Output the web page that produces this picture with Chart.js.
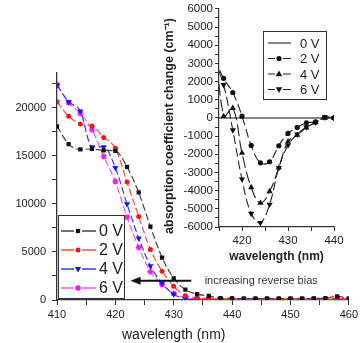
<!DOCTYPE html>
<html>
<head>
<meta charset="utf-8">
<script src="https://cdn.jsdelivr.net/npm/chart.js@4/dist/chart.umd.min.js"></script>
<style>
  html, body { margin: 0; padding: 0; background: #fff; }
  #wrap { position: relative; width: 361px; height: 343px; overflow: hidden; }
  #mainBox { position: absolute; left: 0; top: 0; width: 361px; height: 343px; }
  #insetBox { position: absolute; left: 160px; top: 0; width: 201px; height: 270px; }
</style>
</head>
<body>
<div id="wrap">
  <div id="mainBox"><canvas id="main"></canvas></div>
  <div id="insetBox"><canvas id="inset"></canvas></div>
</div>
<script>
// main plot: absorption vs wavelength for 4 bias voltages
const wl = [410, 412, 414, 416, 418, 420, 422, 424, 426, 428, 430, 432, 434, 436, 438, 440, 442, 444, 446, 448, 450, 452, 454, 456, 458, 460];
const abs0 = [18060, 16200, 15650, 15700, 15560, 15500, 13830, 11180, 7640, 4410, 2260, 1080, 620, 420, 200, 160, 150, 150, 150, 150, 150, 150, 160, 200, 380, 150];
const abs2 = [20600, 19100, 18300, 18100, 16900, 15770, 12260, 8680, 5250, 3000, 1420, 450, 250, 150, 120, 120, 120, 120, 120, 120, 120, 120, 120, 120, 150, 120];
const abs4 = [22330, 20600, 19620, 15910, 15910, 13750, 9970, 6430, 3540, 1740, 590, 150, 60, 40, 40, 40, 40, 40, 40, 40, 40, 40, 40, 40, 60, 40];
const abs6 = [22400, 20500, 19380, 17710, 14930, 12330, 8610, 5450, 2950, 1630, 660, 250, 120, 100, 100, 100, 100, 100, 100, 100, 100, 100, 100, 100, 150, 100];
const mainLabels = ["0 V", "2 V", "4 V", "6 V"];
const mainXTicks = [410, 420, 430, 440, 450, 460];
const mainYTicks = [0, 5000, 10000, 15000, 20000];

// inset: change relative to 0 V
const iwl = [414, 416, 418, 420, 422, 424, 426, 428, 430, 432, 434, 436, 438, 440];
const dA0 = [0, 0, 0, 0, 0, 0, 0, 0, 0, 0, 0, 0, 0, 0];
const dA2 = [3300, 2180, 1400, 100, -1510, -2470, -2410, -1530, -850, -520, -270, -220, 20, 0];
const dA4 = [5400, 90, 540, -1930, -3820, -4680, -4040, -2740, -1300, -940, -540, -250, 0, 0];
const dA6 = [3200, 1820, -670, -3370, -5260, -5770, -4760, -2740, -1500, -900, -500, -250, 50, 0];
const insetXTicks = [420, 430, 440];
const insetYTicks = [-6000, -5000, -4000, -3000, -2000, -1000, 0, 1000, 2000, 3000, 4000, 5000, 6000];

Chart.defaults.font.family = 'Arial, "Liberation Sans", sans-serif';
Chart.defaults.color = "#222";
Chart.defaults.animation = false;
Chart.defaults.plugins.legend.display = false;
Chart.defaults.plugins.tooltip.enabled = false;

const pts = (xs, ys) => xs.map((x, i) => ({ x, y: ys[i] }));
// major ticks plus one minor tick halfway to the next, clipped to the axis range
const withMinor = (major, half, lo, hi) => major.flatMap((v) => [v - half, v, v + half])
  .filter((v, i, a) => v >= lo && v <= hi && a.indexOf(v) === i)
  .sort((a, b) => a - b)
  .map((value) => ({ value }));

function marker(ctx, style, x, y, r, rot, color) {
  ctx.save();
  ctx.fillStyle = color;
  ctx.strokeStyle = color;
  ctx.setLineDash([]);
  ctx.beginPath();
  if (style === "circle") {
    ctx.arc(x, y, r, 0, Math.PI * 2);
    ctx.fill();
  } else if (style === "rect") {
    const s = r * Math.SQRT1_2;
    ctx.fillRect(x - s, y - s, 2 * s, 2 * s);
  } else if (style === "triangle") {
    const d = rot ? -1 : 1;
    ctx.moveTo(x, y - d * r);
    ctx.lineTo(x - r * 0.9, y + d * r * 0.6);
    ctx.lineTo(x + r * 0.9, y + d * r * 0.6);
    ctx.closePath();
    ctx.fill();
  } else if (style === "star") {
    ctx.lineWidth = 1.5;
    for (let a = 0; a < 4; a++) {
      const t = (a * Math.PI) / 4;
      ctx.moveTo(x - Math.cos(t) * r, y - Math.sin(t) * r);
      ctx.lineTo(x + Math.cos(t) * r, y + Math.sin(t) * r);
    }
    ctx.stroke();
  }
  ctx.restore();
}

function legendBox(ctx, box, rows) {
  ctx.save();
  ctx.fillStyle = "#fff";
  ctx.fillRect(box.x, box.y, box.w, box.h);
  ctx.strokeStyle = "#333";
  ctx.lineWidth = 1;
  ctx.strokeRect(box.x + 0.5, box.y + 0.5, box.w, box.h);
  rows.forEach((r, i) => {
    const yy = box.y + box.first + i * box.step;
    ctx.strokeStyle = r.line;
    ctx.lineWidth = r.width || 1.2;
    if (r.style) {
      ctx.beginPath();
      ctx.moveTo(box.x + box.l0, yy); ctx.lineTo(box.x + box.mk - box.gap, yy);
      ctx.moveTo(box.x + box.mk + box.gap, yy); ctx.lineTo(box.x + box.l1, yy);
      ctx.stroke();
      marker(ctx, r.style, box.x + box.mk, yy, r.r, r.rot, r.color);
    } else {
      ctx.beginPath();
      ctx.moveTo(box.x + box.l0, yy); ctx.lineTo(box.x + box.l1, yy);
      ctx.stroke();
    }
    ctx.fillStyle = "#222";
    ctx.font = box.font;
    ctx.textAlign = "left";
    ctx.textBaseline = "middle";
    ctx.fillText(r.label, box.x + box.tx, yy + 1);
  });
  ctx.restore();
}

const mainStyle = [
  { color: "#111", line: "#444", style: "rect", r: 3, rot: 0 },
  { color: "#f01818", line: "#f05050", style: "circle", r: 2.5, rot: 0 },
  { color: "#1414f0", line: "#3a3af0", style: "triangle", r: 3.5, rot: 180 },
  { color: "#ee22ee", line: "#ee55ee", style: "star", r: 3, rot: 0 },
];
const mainSeries = [abs0, abs2, abs4, abs6];

const mainDeco = {
  id: "mainDeco",
  afterDatasetsDraw(chart) {
    const { ctx, scales: { x, y }, chartArea } = chart;
    ctx.save();
    // arrow "increasing reverse bias"
    const ay = y.getPixelForValue(2000);
    const tip = x.getPixelForValue(422.6), tail = x.getPixelForValue(433);
    ctx.strokeStyle = "#111";
    ctx.fillStyle = "#111";
    ctx.lineWidth = 2;
    ctx.beginPath(); ctx.moveTo(tail, ay); ctx.lineTo(tip + 6, ay); ctx.stroke();
    ctx.beginPath(); ctx.moveTo(tip, ay); ctx.lineTo(tip + 10, ay - 4); ctx.lineTo(tip + 10, ay + 4); ctx.closePath(); ctx.fill();
    ctx.fillStyle = "#333";
    ctx.font = '11px Arial, "Liberation Sans", sans-serif';
    ctx.textAlign = "left";
    ctx.textBaseline = "middle";
    ctx.fillText("increasing reverse bias", x.getPixelForValue(435.3), ay);
    // axis title, sits left of centre in the original
    ctx.fillStyle = "#222";
    ctx.font = '14px Arial, "Liberation Sans", sans-serif';
    ctx.textAlign = "center";
    ctx.fillText("wavelength (nm)", x.getPixelForValue(430), chartArea.bottom + 35);
    ctx.restore();

    legendBox(ctx, { x: 58, y: 215, w: 66, h: 83, first: 16, step: 19, l0: 3, l1: 38, mk: 20, gap: 4, tx: 41, font: '16px Arial, "Liberation Sans", sans-serif' },
      mainLabels.map((label, i) => ({ label, ...mainStyle[i], width: 1.3 })));
  },
};

new Chart(document.getElementById("main"), {
  type: "line",
  data: {
    datasets: mainSeries.map((s, i) => ({
      label: mainLabels[i],
      data: pts(wl, s),
      borderColor: mainStyle[i].line,
      backgroundColor: mainStyle[i].color,
      pointBackgroundColor: mainStyle[i].color,
      pointBorderColor: mainStyle[i].color,
      pointStyle: mainStyle[i].style,
      pointRadius: mainStyle[i].r,
      pointRotation: mainStyle[i].rot,
      pointBorderWidth: mainStyle[i].style === "star" ? 1.5 : 0,
      borderWidth: 1.2,
      borderDash: [7, 3],
      cubicInterpolationMode: "monotone",
    })),
  },
  options: {
    responsive: true,
    maintainAspectRatio: false,
    devicePixelRatio: 1,
    layout: { autoPadding: false, padding: { left: 0, right: 11, top: 73, bottom: 0 } },
    scales: {
      x: {
        type: "linear", min: 410, max: 460,
        afterFit: (s) => { s.height = 43; },
        afterBuildTicks: (s) => { s.ticks = withMinor(mainXTicks, 5, 410, 460); },
        ticks: { autoSkip: false, padding: 3, font: { size: 11 }, color: "#222", maxRotation: 0,
          callback: (v) => (mainXTicks.includes(v) ? v : "") },
        grid: { drawOnChartArea: false, tickLength: 5, color: "#333" },
        border: { color: "#333", width: 1.3 },
      },
      y: {
        min: 0, max: 23600,
        afterFit: (s) => { s.width = 57; },
        afterBuildTicks: (s) => { s.ticks = withMinor(mainYTicks, 2500, 0, 23600); },
        ticks: { autoSkip: false, padding: 6, font: { size: 11 }, color: "#222",
          callback: (v) => (mainYTicks.includes(v) ? v : "") },
        grid: { drawOnChartArea: false, tickLength: 5, color: "#333" },
        border: { color: "#333", width: 1.3 },
      },
    },
  },
  plugins: [mainDeco],
});

// inset
const insetStyle = [
  { color: "#111", line: "#111", style: null, r: 0, rot: 0, dash: [] },
  { color: "#111", line: "#222", style: "circle", r: 2.6, rot: 0, dash: [9, 4] },
  { color: "#111", line: "#222", style: "triangle", r: 3.6, rot: 0, dash: [12, 4] },
  { color: "#111", line: "#222", style: "triangle", r: 3.6, rot: 180, dash: [9, 4] },
];
const insetSeries = [dA0, dA2, dA4, dA6];

const insetDeco = {
  id: "insetDeco",
  afterDatasetsDraw(chart) {
    const { ctx } = chart;
    ctx.save();
    ctx.translate(10, 126);
    ctx.rotate(-Math.PI / 2);
    ctx.fillStyle = "#222";
    ctx.font = 'bold 12.5px Arial, "Liberation Sans", sans-serif';
    ctx.textAlign = "center";
    ctx.textBaseline = "middle";
    ctx.fillText("absorption coefficient change (cm\u207B\u00B9)", 0, 0);
    ctx.restore();
    legendBox(ctx, { x: 103, y: 31, w: 63, h: 68, first: 12, step: 15.5, l0: 5, l1: 28, mk: 16, gap: 4, tx: 37, font: '13px Arial, "Liberation Sans", sans-serif' },
      mainLabels.map((label, i) => ({ label, ...insetStyle[i], width: 1 })));
  },
};

new Chart(document.getElementById("inset"), {
  type: "line",
  data: {
    datasets: insetSeries.map((s, i) => ({
      label: mainLabels[i],
      data: pts(iwl, s),
      borderColor: insetStyle[i].line,
      pointBackgroundColor: insetStyle[i].color,
      pointBorderWidth: 0,
      pointStyle: insetStyle[i].style || "circle",
      pointRadius: (c) => (!insetStyle[i].style || (c.raw && c.raw.x < 415) ? 0 : insetStyle[i].r),
      pointRotation: insetStyle[i].rot,
      borderWidth: 1.1,
      borderDash: insetStyle[i].dash,
      tension: i === 0 ? 0 : 0.4,
    })),
  },
  options: {
    responsive: true,
    maintainAspectRatio: false,
    devicePixelRatio: 1,
    layout: { autoPadding: false, padding: { left: 0, right: 27, top: 5, bottom: 0 } },
    scales: {
      x: {
        type: "linear", min: 415, max: 440,
        afterFit: (s) => { s.height = 43; },
        afterBuildTicks: (s) => { s.ticks = withMinor(insetXTicks, 5, 415, 440); },
        ticks: { autoSkip: false, padding: 3, font: { size: 11.5 }, color: "#222", maxRotation: 0,
          callback: (v) => (insetXTicks.includes(v) ? v : "") },
        grid: { drawOnChartArea: false, tickLength: 4, color: "#333" },
        border: { color: "#333", width: 1.2 },
        title: { display: true, text: "wavelength (nm)", color: "#222", font: { size: 12, weight: "bold" }, padding: { top: 0, bottom: 6 } },
      },
      y: {
        min: -6000, max: 6000,
        afterFit: (s) => { s.width = 59; },
        afterBuildTicks: (s) => { s.ticks = withMinor(insetYTicks, 500, -6000, 6000); },
        ticks: { autoSkip: false, padding: 2, font: { size: 11.5 }, color: "#222",
          callback: (v) => (insetYTicks.includes(v) ? v : "") },
        grid: { drawOnChartArea: false, tickLength: 4, color: "#333" },
        border: { color: "#333", width: 1.2 },
      },
    },
  },
  plugins: [insetDeco],
});
</script>
</body>
</html>
